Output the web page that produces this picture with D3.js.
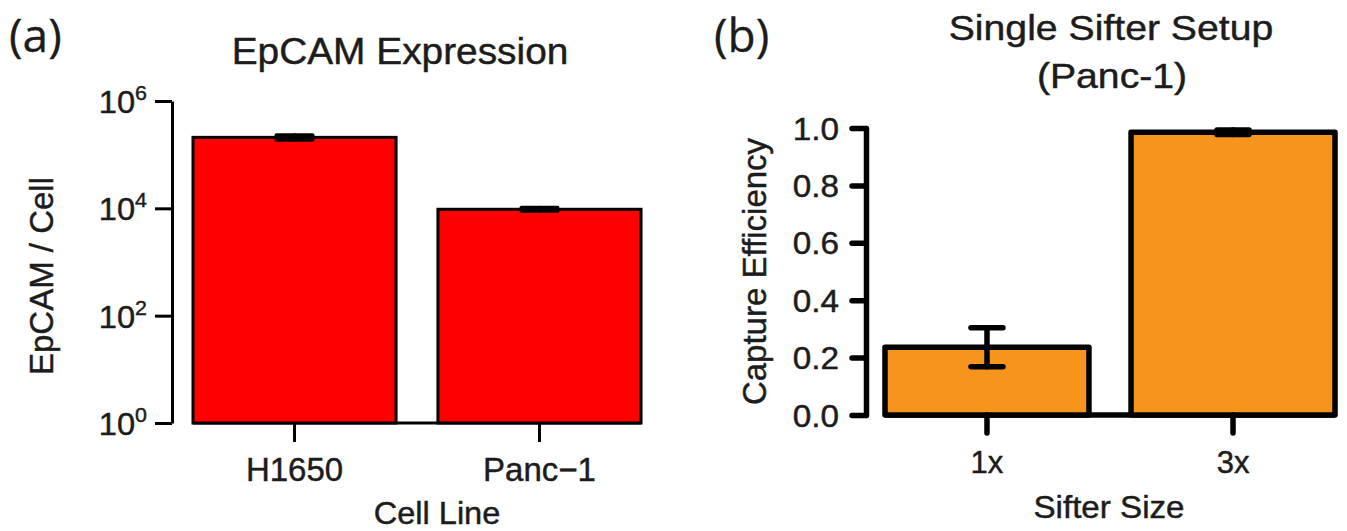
<!DOCTYPE html>
<html>
<head>
<meta charset="utf-8">
<script src="https://cdn.jsdelivr.net/npm/d3@7"></script>
<style>
  html, body { margin: 0; padding: 0; background: #fff; }
  svg { display: block; }
  text { font-family: "Liberation Sans", Arimo, Arial, Helvetica, sans-serif; fill: #1c1c1c; stroke: #1c1c1c; stroke-width: 0.45px; }
</style>
</head>
<body>
<svg id="chart" width="1347" height="531"></svg>
<script>
// ---- Data ----
const cellLines = ["H1650", "Panc\u22121"];
const epcamPerCell = [210000, 9600];
const epcamErrLow = [190000, 9000];
const epcamErrHigh = [230000, 10200];
const logTicks = [1, 1e2, 1e4, 1e6];
const logTickExponents = ["0", "2", "4", "6"];

const sifterSizes = ["1x", "3x"];
const captureEff = [0.236, 0.985];
const captureErr = [0.068, 0.008];
const effTicks = [0, 0.2, 0.4, 0.6, 0.8, 1.0];

const svg = d3.select("#chart");

function stretchedText(g, x, y, str, size, sx, anchor) {
  return g.append("text")
    .attr("transform", `translate(${x},${y}) scale(${sx},1)`)
    .attr("font-size", size)
    .attr("text-anchor", anchor || "middle")
    .text(str);
}

// ================= Panel (a) =================
const gA = svg.append("g");
const xA = d3.scaleBand().domain(cellLines).range([193, 641]).paddingInner(0.171).paddingOuter(0);
const yA = d3.scaleLog().domain([1, 1e6]).range([423, 101]);

gA.append("text").attr("x", 9).attr("y", 52).attr("font-size", 46)
  .style("font-family", "'Open Sans', sans-serif").style("stroke-width", "0.3px").text("(a)");
stretchedText(gA, 400, 64, "EpCAM Expression", 37, 1.05);

// y axis
const axA = gA.append("g").attr("transform", "translate(172,0)")
  .call(d3.axisLeft(yA).tickValues(logTicks).tickSize(17).tickSizeOuter(0).tickFormat(""));
axA.select(".domain").attr("stroke", "#000").attr("stroke-width", 3);
axA.selectAll(".tick line").attr("stroke", "#000").attr("stroke-width", 3);
logTicks.forEach((v, i) => {
  const t = gA.append("text")
    .attr("transform", `translate(147,${yA(v) + 12}) scale(1.02,1)`)
    .attr("text-anchor", "end")
    .attr("font-size", 32);
  t.append("tspan").text("10");
  t.append("tspan").attr("font-size", 21).attr("dy", -13).text(logTickExponents[i]);
});
gA.append("text")
  .attr("transform", `translate(53,${(yA(1) + yA(1e6)) / 2 + 14}) rotate(-90)`)
  .attr("text-anchor", "middle").attr("font-size", 33).text("EpCAM / Cell");

gA.append("line")
  .attr("x1", xA.range()[0]).attr("x2", xA.range()[1])
  .attr("y1", yA(1)).attr("y2", yA(1))
  .attr("stroke", "#000").attr("stroke-width", 3);
gA.selectAll("rect.bar").data(cellLines).join("rect")
  .attr("class", "bar")
  .attr("x", d => xA(d)).attr("width", xA.bandwidth())
  .attr("y", (d, i) => yA(epcamPerCell[i]))
  .attr("height", (d, i) => yA(1) - yA(epcamPerCell[i]))
  .attr("fill", "#ff0000").attr("stroke", "#000").attr("stroke-width", 3);
cellLines.forEach((d, i) => {
  const cx = xA(d) + xA.bandwidth() / 2;
  const hw = 18;
  const g = gA.append("g").attr("stroke", "#000").attr("stroke-width", 4).attr("stroke-linecap", "round");
  g.append("line").attr("x1", cx).attr("x2", cx).attr("y1", yA(epcamErrLow[i])).attr("y2", yA(epcamErrHigh[i]));
  g.append("line").attr("x1", cx - hw).attr("x2", cx + hw).attr("y1", yA(epcamErrLow[i])).attr("y2", yA(epcamErrLow[i]));
  g.append("line").attr("x1", cx - hw).attr("x2", cx + hw).attr("y1", yA(epcamErrHigh[i])).attr("y2", yA(epcamErrHigh[i]));
});
const axXA = gA.append("g").attr("transform", `translate(0,${yA(1)})`)
  .call(d3.axisBottom(xA).tickSize(19).tickSizeOuter(0).tickFormat(""));
axXA.select(".domain").remove();
axXA.selectAll(".tick line").attr("stroke", "#000").attr("stroke-width", 3);
cellLines.forEach(d => {
  stretchedText(gA, xA(d) + xA.bandwidth() / 2, 481, d, 33, 1.0);
});
stretchedText(gA, 437, 524, "Cell Line", 31, 1.05);

// ================= Panel (b) =================
const gB = svg.append("g");
const xB = d3.scaleBand().domain(sifterSizes).range([885, 1335]).paddingInner(0.171).paddingOuter(0);
const yB = d3.scaleLinear().domain([0, 1]).range([415, 128]);

gB.append("text").attr("x", 714).attr("y", 52).attr("font-size", 46)
  .style("font-family", "'Open Sans', sans-serif").style("stroke-width", "0.3px").text("(b)");
stretchedText(gB, 1111, 40, "Single Sifter Setup", 35, 1.12);
stretchedText(gB, 1112, 88, "(Panc-1)", 35, 1.12);

const axB = gB.append("g").attr("transform", "translate(866,0)")
  .call(d3.axisLeft(yB).tickValues(effTicks).tickSize(14).tickSizeOuter(0).tickFormat(""));
axB.select(".domain").attr("stroke", "#000").attr("stroke-width", 5.5).attr("stroke-linecap", "round");
axB.selectAll(".tick line").attr("stroke", "#000").attr("stroke-width", 5.5).attr("stroke-linecap", "round");
effTicks.forEach(v => {
  stretchedText(gB, 839, yB(v) + 11.5, d3.format(".1f")(v), 32, 1.04, "end");
});
gB.append("text")
  .attr("transform", `translate(766,${(yB(0) + yB(1)) / 2}) rotate(-90)`)
  .attr("text-anchor", "middle").attr("font-size", 33).text("Capture Efficiency");

gB.append("line")
  .attr("x1", xB.range()[0]).attr("x2", xB.range()[1])
  .attr("y1", yB(0)).attr("y2", yB(0))
  .attr("stroke", "#000").attr("stroke-width", 5.5);
gB.selectAll("rect.bar").data(sifterSizes).join("rect")
  .attr("class", "bar")
  .attr("x", d => xB(d)).attr("width", xB.bandwidth())
  .attr("y", (d, i) => yB(captureEff[i]))
  .attr("height", (d, i) => yB(0) - yB(captureEff[i]))
  .attr("fill", "#f7941e").attr("stroke", "#000").attr("stroke-width", 5.5)
  .attr("stroke-linejoin", "round");
sifterSizes.forEach((d, i) => {
  const cx = xB(d) + xB.bandwidth() / 2;
  const hw = 16;
  const lo = captureEff[i] - captureErr[i], hi = captureEff[i] + captureErr[i];
  const g = gB.append("g").attr("stroke", "#000").attr("stroke-width", 5.5).attr("stroke-linecap", "round");
  g.append("line").attr("x1", cx).attr("x2", cx).attr("y1", yB(lo)).attr("y2", yB(hi));
  g.append("line").attr("x1", cx - hw).attr("x2", cx + hw).attr("y1", yB(lo)).attr("y2", yB(lo));
  g.append("line").attr("x1", cx - hw).attr("x2", cx + hw).attr("y1", yB(hi)).attr("y2", yB(hi));
});
const axXB = gB.append("g").attr("transform", `translate(0,${yB(0)})`)
  .call(d3.axisBottom(xB).tickSize(18).tickSizeOuter(0).tickFormat(""));
axXB.select(".domain").remove();
axXB.selectAll(".tick line").attr("stroke", "#000").attr("stroke-width", 5.5).attr("stroke-linecap", "round");
sifterSizes.forEach(d => {
  stretchedText(gB, xB(d) + xB.bandwidth() / 2, 473, d, 31, 1.0);
});
stretchedText(gB, 1109, 518, "Sifter Size", 31, 1.07);
</script>
</body>
</html>
